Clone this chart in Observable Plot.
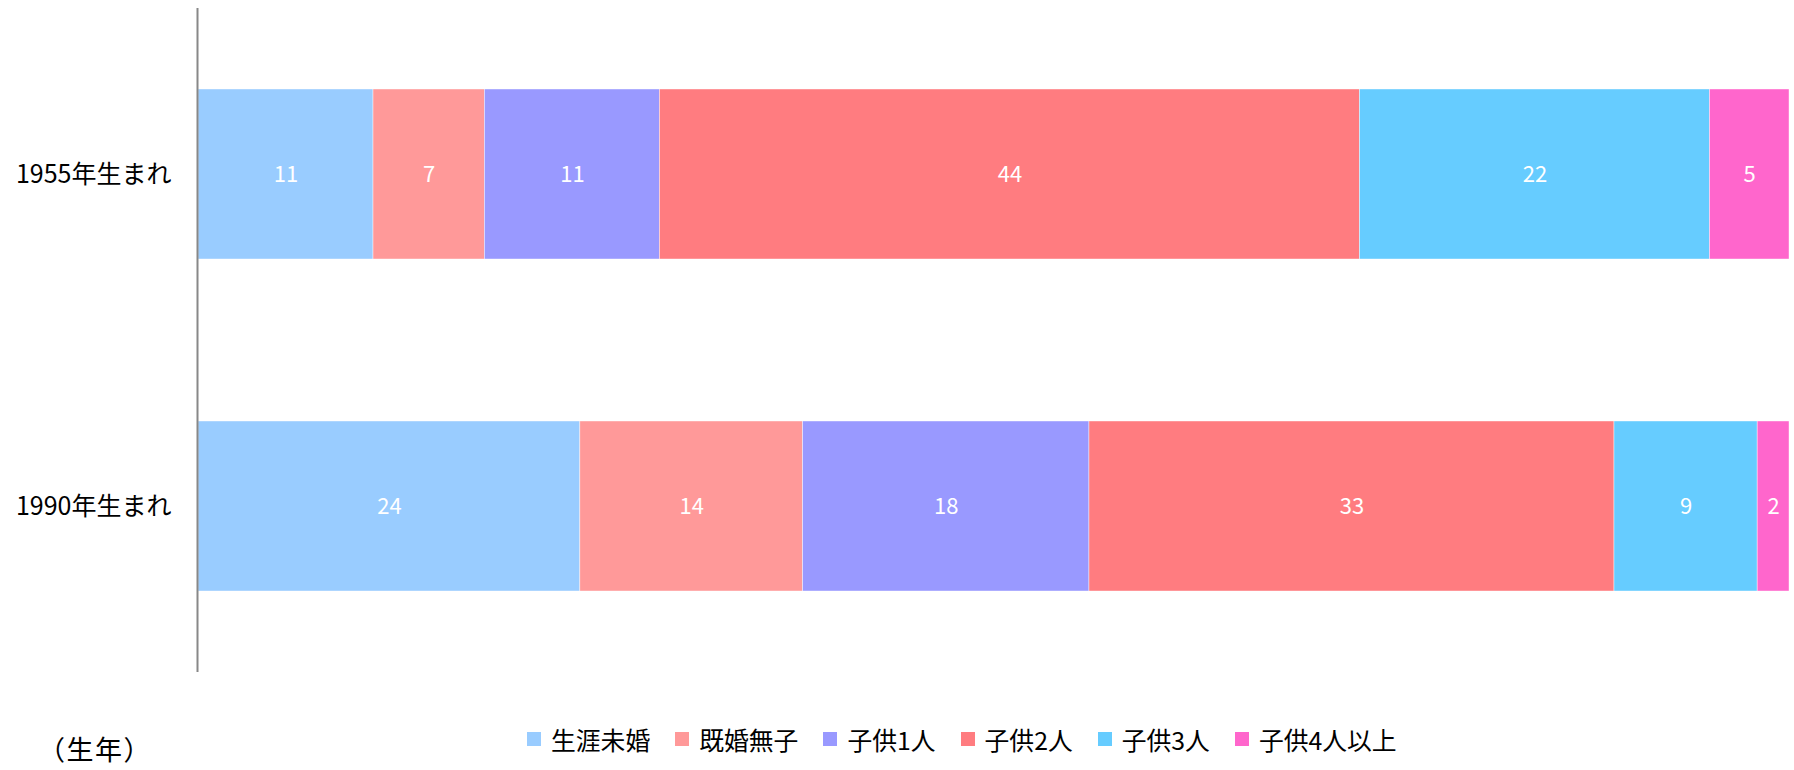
<!DOCTYPE html>
<html>
<head>
<meta charset="utf-8">
<script src="https://cdn.jsdelivr.net/npm/d3@7"></script>
<script src="https://cdn.jsdelivr.net/npm/@observablehq/plot@0.6"></script>
<style>
  html, body { margin: 0; padding: 0; background: #fff; }
  #wrap { position: relative; width: 1794px; height: 770px; font-family: "Noto Sans CJK JP", "Noto Sans", sans-serif; }
  #legend { position: absolute; left: 527px; top: 724px; display: flex; align-items: center; gap: 25px; font-size: 24.8px; color: #000; white-space: nowrap; line-height: 30px; }
  .item { display: flex; align-items: center; gap: 10px; }
  .sw { width: 14px; height: 14px; display: inline-block; }
  #unit { position: absolute; left: 38px; top: 735px; font-size: 27px; letter-spacing: 1.5px; color: #000; line-height: 27px; height: 27px; }
</style>
</head>
<body>
<div id="wrap">
  <div id="chart"></div>
  <div id="legend"></div>
  <div id="unit">（生年）</div>
</div>
<script>
const cohorts = ["1955年生まれ", "1990年生まれ"];
const categories = ["生涯未婚", "既婚無子", "子供1人", "子供2人", "子供3人", "子供4人以上"];
const values1955 = [11, 7, 11, 44, 22, 5];
const values1990 = [24, 14, 18, 33, 9, 2];
const colors = ["#99CCFF", "#FF9999", "#9999FF", "#FF7C80", "#66CCFF", "#FF66CC"];

const seriesByCohort = [values1955, values1990];
const data = [];
cohorts.forEach((c, i) => {
  categories.forEach((cat, j) => {
    data.push({cohort: c, category: cat, value: seriesByCohort[i][j]});
  });
});

const font = '"Noto Sans CJK JP", "Noto Sans", sans-serif';

const chart = Plot.plot({
  width: 1794,
  height: 672,
  marginTop: 8,
  marginBottom: 0,
  marginLeft: 198,
  marginRight: 5,
  style: {fontFamily: font, fontSize: "24px", color: "#000", background: "#fff"},
  x: {domain: [0, 100], axis: null},
  y: {domain: cohorts, paddingInner: 0.488, paddingOuter: 0.244, label: null, axis: null},
  color: {domain: categories, range: colors},
  marks: [
    Plot.barX(data, Plot.stackX({x: "value", y: "cohort", fill: "category", stroke: "white", strokeWidth: 0.6, strokeOpacity: 0.7})),
    Plot.text(data, Plot.stackX({x: "value", y: "cohort", text: d => String(d.value), fill: "white", fontSize: 22})),
    Plot.axisY({tickSize: 0, tickPadding: 27, fontSize: 25, label: null}),
    Plot.ruleX([0], {stroke: "#888", strokeWidth: 2, dx: -1})
  ]
});
document.getElementById("chart").appendChild(chart);

const legend = document.getElementById("legend");
categories.forEach((cat, i) => {
  const item = document.createElement("div");
  item.className = "item";
  const sw = document.createElement("span");
  sw.className = "sw";
  sw.style.background = colors[i];
  const t = document.createElement("span");
  t.textContent = cat;
  item.appendChild(sw);
  item.appendChild(t);
  legend.appendChild(item);
});
</script>
</body>
</html>
